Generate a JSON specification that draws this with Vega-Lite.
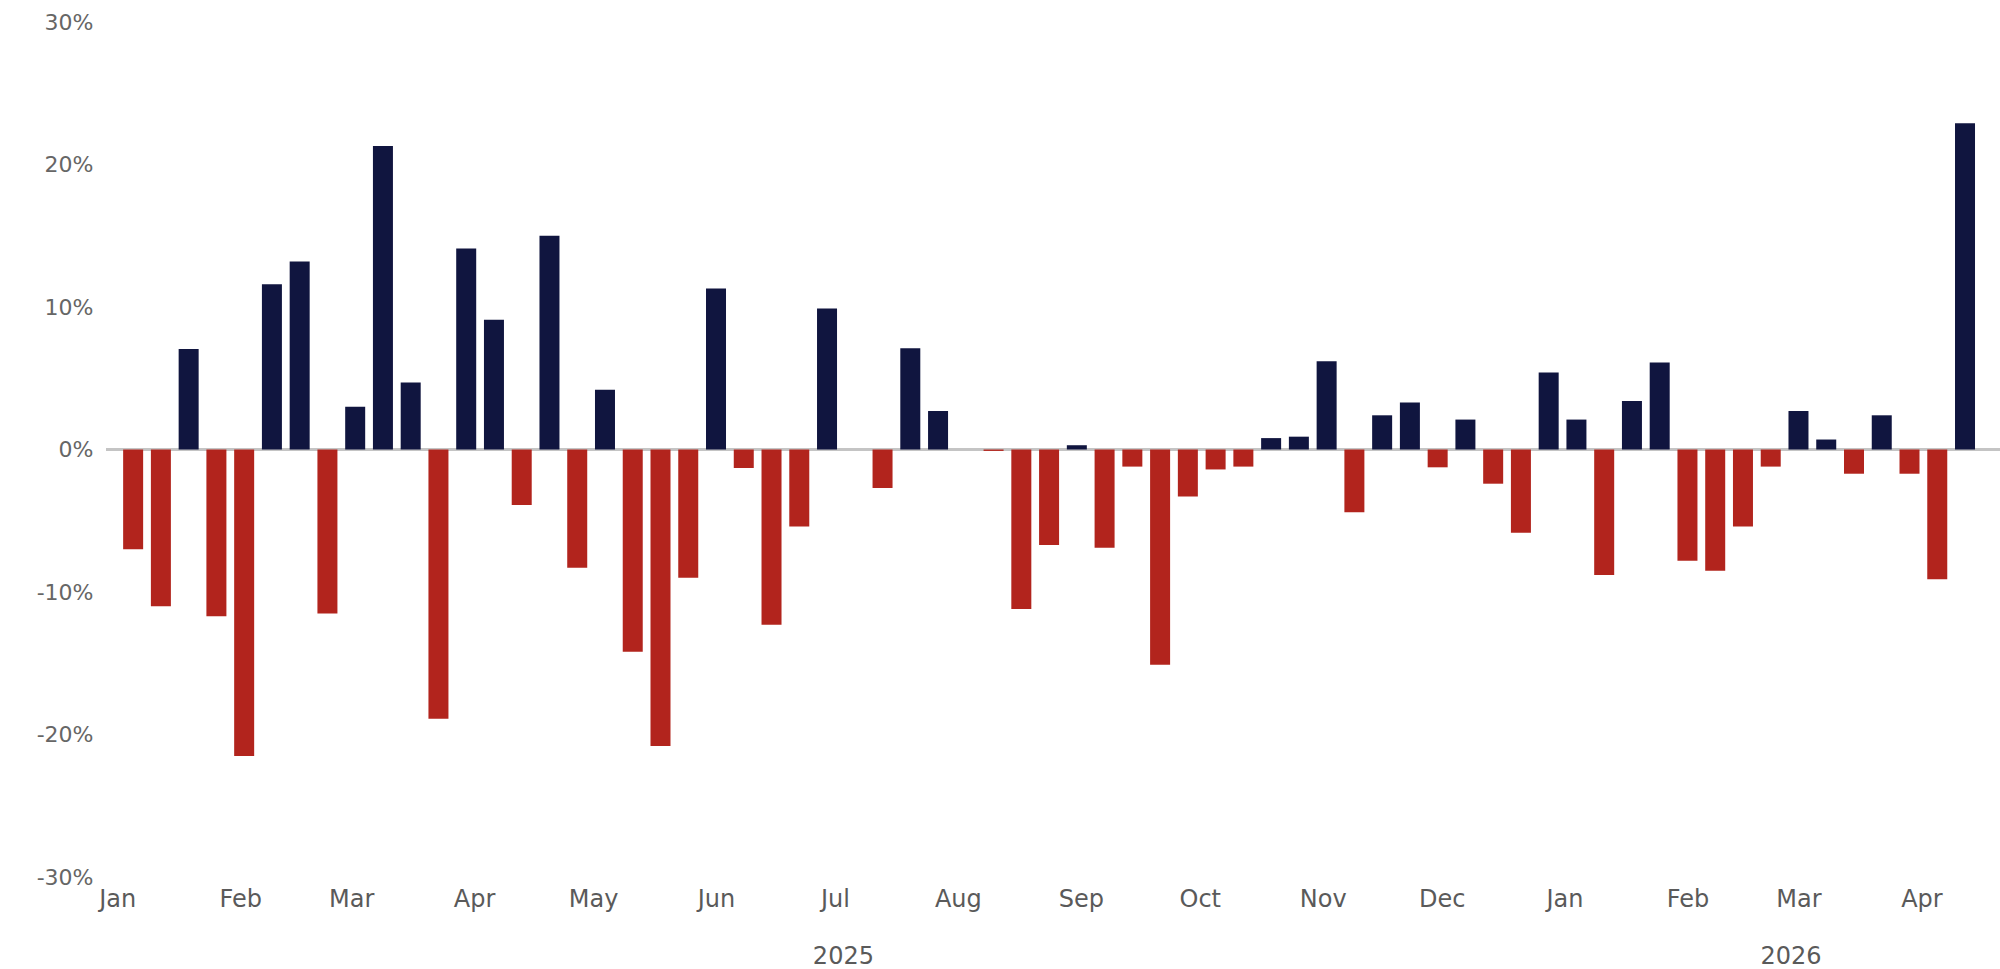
{
  "$schema": "https://vega.github.io/schema/vega-lite/v6.json",
  "autosize": "none",
  "width": 1894,
  "height": 855,
  "padding": {"left": 106, "top": 22, "right": 0, "bottom": 92},
  "background": "white",
  "config": {
    "view": {"stroke": null},
    "axis": {
      "labelFont": "DejaVu Sans",
      "labelFontSize": 24,
      "labelColor": "#5a5a5a",
      "domain": false,
      "ticks": false,
      "grid": false,
      "title": null,
      "labelFlush": false,
      "labelOverlap": false,
      "labelBound": false
    }
  },
  "datasets": {
    "weekly": [
      {"date": "2025-01-05", "value": -7.0},
      {"date": "2025-01-12", "value": -11.0},
      {"date": "2025-01-19", "value": 7.05},
      {"date": "2025-01-26", "value": -11.7},
      {"date": "2025-02-02", "value": -21.5},
      {"date": "2025-02-09", "value": 11.6},
      {"date": "2025-02-16", "value": 13.2},
      {"date": "2025-02-23", "value": -11.5},
      {"date": "2025-03-02", "value": 3.0},
      {"date": "2025-03-09", "value": 21.3},
      {"date": "2025-03-16", "value": 4.7},
      {"date": "2025-03-23", "value": -18.9},
      {"date": "2025-03-30", "value": 14.1},
      {"date": "2025-04-06", "value": 9.1},
      {"date": "2025-04-13", "value": -3.9},
      {"date": "2025-04-20", "value": 15.0},
      {"date": "2025-04-27", "value": -8.3},
      {"date": "2025-05-04", "value": 4.2},
      {"date": "2025-05-11", "value": -14.2},
      {"date": "2025-05-18", "value": -20.8},
      {"date": "2025-05-25", "value": -9.0},
      {"date": "2025-06-01", "value": 11.3},
      {"date": "2025-06-08", "value": -1.3},
      {"date": "2025-06-15", "value": -12.3},
      {"date": "2025-06-22", "value": -5.4},
      {"date": "2025-06-29", "value": 9.9},
      {"date": "2025-07-06", "value": 0},
      {"date": "2025-07-13", "value": -2.7},
      {"date": "2025-07-20", "value": 7.1},
      {"date": "2025-07-27", "value": 2.7},
      {"date": "2025-08-03", "value": 0},
      {"date": "2025-08-10", "value": -0.1},
      {"date": "2025-08-17", "value": -11.2},
      {"date": "2025-08-24", "value": -6.7},
      {"date": "2025-08-31", "value": 0.3},
      {"date": "2025-09-07", "value": -6.9},
      {"date": "2025-09-14", "value": -1.2},
      {"date": "2025-09-21", "value": -15.1},
      {"date": "2025-09-28", "value": -3.3},
      {"date": "2025-10-05", "value": -1.4},
      {"date": "2025-10-12", "value": -1.2},
      {"date": "2025-10-19", "value": 0.8},
      {"date": "2025-10-26", "value": 0.9},
      {"date": "2025-11-02", "value": 6.2},
      {"date": "2025-11-09", "value": -4.4},
      {"date": "2025-11-16", "value": 2.4},
      {"date": "2025-11-23", "value": 3.3},
      {"date": "2025-11-30", "value": -1.25},
      {"date": "2025-12-07", "value": 2.1},
      {"date": "2025-12-14", "value": -2.4},
      {"date": "2025-12-21", "value": -5.85},
      {"date": "2025-12-28", "value": 5.4},
      {"date": "2026-01-04", "value": 2.1},
      {"date": "2026-01-11", "value": -8.8},
      {"date": "2026-01-18", "value": 3.4},
      {"date": "2026-01-25", "value": 6.1},
      {"date": "2026-02-01", "value": -7.8},
      {"date": "2026-02-08", "value": -8.5},
      {"date": "2026-02-15", "value": -5.4},
      {"date": "2026-02-22", "value": -1.2},
      {"date": "2026-03-01", "value": 2.7},
      {"date": "2026-03-08", "value": 0.7},
      {"date": "2026-03-15", "value": -1.7},
      {"date": "2026-03-22", "value": 2.4},
      {"date": "2026-03-29", "value": -1.7},
      {"date": "2026-04-05", "value": -9.1},
      {"date": "2026-04-12", "value": 22.9}
    ],
    "years": [
      {"mid": "2025-07-03", "year": "2025"},
      {"mid": "2026-02-27", "year": "2026"}
    ]
  },
  "resolve": {"axis": {"x": "independent"}},
  "layer": [
    {
      "data": {"name": "weekly"},
      "mark": {"type": "rule", "color": "#c4c4c4", "strokeWidth": 1.5},
      "encoding": {
        "y": {"datum": 0, "type": "quantitative"}
      }
    },
    {
      "data": {"name": "weekly"},
      "mark": {"type": "bar", "size": 20},
      "encoding": {
        "x": {
          "field": "date",
          "type": "temporal",
          "scale": {
            "type": "utc",
            "domain": [
              {"year": 2024, "month": 12, "date": 30, "hours": 10, "utc": true},
              {"year": 2026, "month": 4, "date": 19, "hours": 13, "minutes": 30, "utc": true}
            ]
          },
          "axis": {
            "orient": "bottom",
            "format": "%b",
            "tickCount": {"interval": "month", "step": 1},
            "labelPadding": 10
          }
        },
        "y": {
          "field": "value",
          "type": "quantitative",
          "scale": {"domain": [-30, 30], "nice": false, "zero": false},
          "axis": {
            "values": [-30, -20, -10, 0, 10, 20, 30],
            "labelExpr": "datum.value + '%'",
            "labelFontSize": 22,
            "labelColor": "#666666",
            "labelPadding": 13
          }
        },
        "color": {
          "condition": {"test": "datum.value >= 0", "value": "#10153f"},
          "value": "#b2241d"
        }
      }
    },
    {
      "data": {"name": "years"},
      "mark": {"type": "text", "opacity": 0},
      "encoding": {
        "x": {
          "field": "mid",
          "type": "temporal",
          "scale": {"type": "utc"},
          "axis": {
            "orient": "bottom",
            "values": [
              {"year": 2025, "month": 7, "date": 3, "utc": true},
              {"year": 2026, "month": 2, "date": 27, "utc": true}
            ],
            "format": "%Y",
            "offset": 57,
            "labelPadding": 10
          }
        },
        "y": {"datum": 0, "type": "quantitative"},
        "text": {"field": "year"}
      }
    }
  ]
}
